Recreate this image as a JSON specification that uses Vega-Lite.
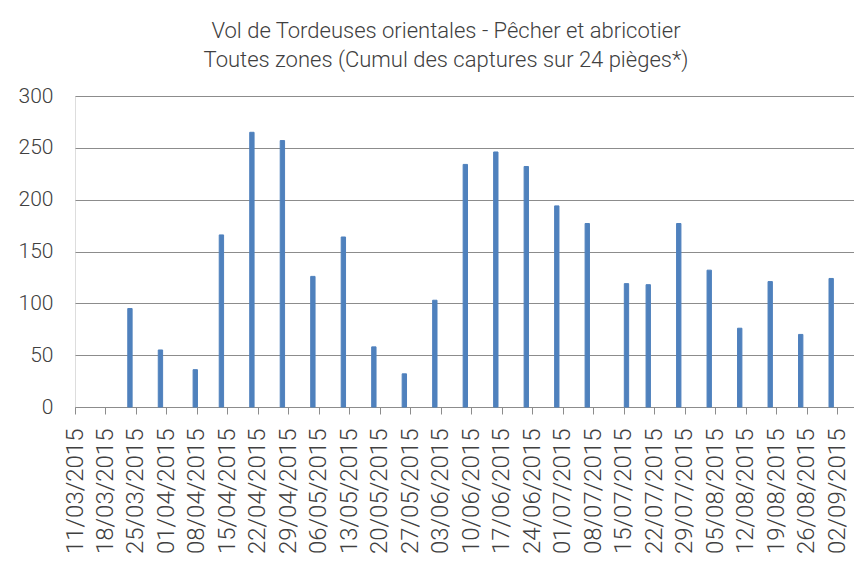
{
  "$schema": "https://vega.github.io/schema/vega-lite/v6.json",
  "width": 784,
  "height": 311,
  "autosize": {"type": "none"},
  "padding": {"left": 75, "top": 96, "right": 0, "bottom": 158},
  "background": "white",
  "title": {
    "text": ["Vol de Tordeuses orientales - Pêcher et abricotier", "Toutes zones (Cumul des captures sur 24 pièges*)"],
    "font": "Roboto",
    "fontWeight": 300,
    "fontSize": 22,
    "color": "#404040",
    "lineHeight": 29.5,
    "anchor": "middle",
    "dx": -21,
    "offset": 13
  },
  "data": {
    "values": [
      {"date": "2015-03-23", "captures": 95},
      {"date": "2015-03-30", "captures": 55},
      {"date": "2015-04-07", "captures": 36},
      {"date": "2015-04-13", "captures": 166},
      {"date": "2015-04-20", "captures": 265},
      {"date": "2015-04-27", "captures": 257},
      {"date": "2015-05-04", "captures": 126},
      {"date": "2015-05-11", "captures": 164},
      {"date": "2015-05-18", "captures": 58},
      {"date": "2015-05-25", "captures": 32},
      {"date": "2015-06-01", "captures": 103},
      {"date": "2015-06-08", "captures": 234},
      {"date": "2015-06-15", "captures": 246},
      {"date": "2015-06-22", "captures": 232},
      {"date": "2015-06-29", "captures": 194},
      {"date": "2015-07-06", "captures": 177},
      {"date": "2015-07-15", "captures": 119},
      {"date": "2015-07-20", "captures": 118},
      {"date": "2015-07-27", "captures": 177},
      {"date": "2015-08-03", "captures": 132},
      {"date": "2015-08-10", "captures": 76},
      {"date": "2015-08-17", "captures": 121},
      {"date": "2015-08-24", "captures": 70},
      {"date": "2015-08-31", "captures": 124}
    ]
  },
  "mark": {"type": "bar", "color": "#4F81BD", "stroke": "#4F81BD", "strokeWidth": 1, "binSpacing": 0},
  "encoding": {
    "x": {
      "field": "date",
      "type": "temporal",
      "timeUnit": "utcyearmonthdate",
      "scale": {
        "type": "utc",
        "domain": [
          {"year": 2015, "month": 3, "date": 11, "utc": true},
          {"year": 2015, "month": 9, "date": 7, "utc": true}
        ]
      },
      "axis": {
        "title": null,
        "grid": false,
        "values": [
          {"year": 2015, "month": 3, "date": 11, "utc": true},
          {"year": 2015, "month": 3, "date": 18, "utc": true},
          {"year": 2015, "month": 3, "date": 25, "utc": true},
          {"year": 2015, "month": 4, "date": 1, "utc": true},
          {"year": 2015, "month": 4, "date": 8, "utc": true},
          {"year": 2015, "month": 4, "date": 15, "utc": true},
          {"year": 2015, "month": 4, "date": 22, "utc": true},
          {"year": 2015, "month": 4, "date": 29, "utc": true},
          {"year": 2015, "month": 5, "date": 6, "utc": true},
          {"year": 2015, "month": 5, "date": 13, "utc": true},
          {"year": 2015, "month": 5, "date": 20, "utc": true},
          {"year": 2015, "month": 5, "date": 27, "utc": true},
          {"year": 2015, "month": 6, "date": 3, "utc": true},
          {"year": 2015, "month": 6, "date": 10, "utc": true},
          {"year": 2015, "month": 6, "date": 17, "utc": true},
          {"year": 2015, "month": 6, "date": 24, "utc": true},
          {"year": 2015, "month": 7, "date": 1, "utc": true},
          {"year": 2015, "month": 7, "date": 8, "utc": true},
          {"year": 2015, "month": 7, "date": 15, "utc": true},
          {"year": 2015, "month": 7, "date": 22, "utc": true},
          {"year": 2015, "month": 7, "date": 29, "utc": true},
          {"year": 2015, "month": 8, "date": 5, "utc": true},
          {"year": 2015, "month": 8, "date": 12, "utc": true},
          {"year": 2015, "month": 8, "date": 19, "utc": true},
          {"year": 2015, "month": 8, "date": 26, "utc": true},
          {"year": 2015, "month": 9, "date": 2, "utc": true}
        ],
        "format": "%d/%m/%Y",
        "labelAngle": -90,
        "labelFont": "Roboto",
        "labelFontWeight": 300,
        "labelFontSize": 24,
        "labelColor": "#404040",
        "labelPadding": 14,
        "labelOverlap": false,
        "labelFlush": false,
        "labelBound": false,
        "tickSize": 7,
        "tickColor": "#8c8c8c",
        "domainColor": "#8c8c8c"
      }
    },
    "y": {
      "field": "captures",
      "type": "quantitative",
      "scale": {"domain": [0, 300]},
      "axis": {
        "title": null,
        "values": [0, 50, 100, 150, 200, 250, 300],
        "domain": false,
        "ticks": false,
        "gridColor": "#8c8c8c",
        "labelFont": "Roboto",
        "labelFontWeight": 300,
        "labelFontSize": 21,
        "labelColor": "#404040",
        "labelPadding": 22
      }
    }
  }
}
